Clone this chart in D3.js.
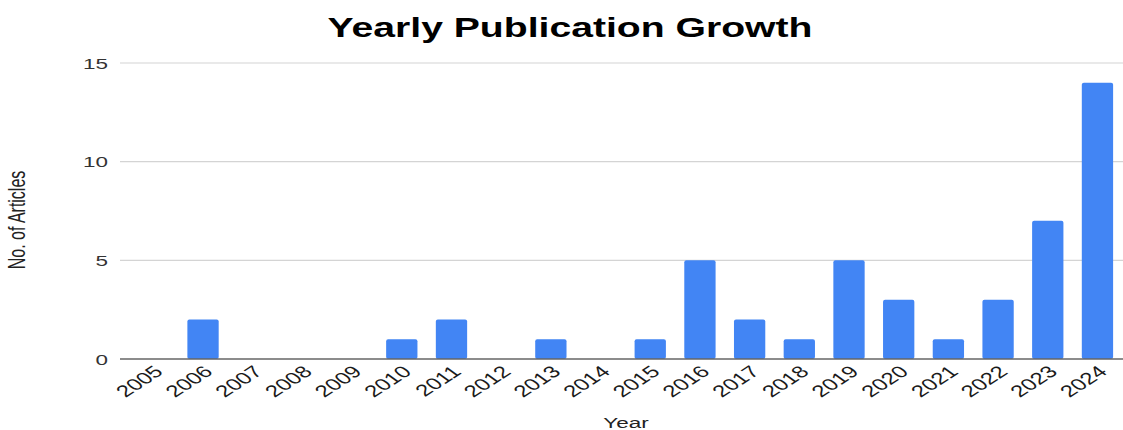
<!DOCTYPE html>
<html>
<head>
<meta charset="utf-8">
<script src="https://cdn.jsdelivr.net/npm/d3@7"></script>
<style>
  html, body { margin: 0; padding: 0; background: #fff; }
  svg { display: block; font-family: "Liberation Sans", Arial, sans-serif; }
</style>
</head>
<body>
<div id="chart"></div>
<script>
const years = ["2005", "2006", "2007", "2008", "2009", "2010", "2011", "2012", "2013", "2014",
  "2015", "2016", "2017", "2018", "2019", "2020", "2021", "2022", "2023", "2024"];
const articles = [0, 2, 0, 0, 0, 1, 2, 0, 1, 0, 1, 5, 2, 1, 5, 3, 1, 3, 7, 14];
const yTicks = [0, 5, 10, 15];

const W = 1123, H = 430;
const sx = 1.45; // text looks stretched sideways in the reference

const svg = d3.select("#chart").append("svg")
    .attr("width", W)
    .attr("height", H);

const x = d3.scaleBand()
    .domain(years)
    .range([128.5, 1122.3])
    .paddingInner(0.37)
    .paddingOuter(0.185);

const y = d3.scaleLinear()
    .domain([0, 15])
    .range([359, 63]);

// gridlines
svg.append("g")
  .selectAll("line")
    .data(yTicks.filter(d => d > 0))
  .enter().append("line")
    .attr("x1", 120)
    .attr("x2", W)
    .attr("y1", d => y(d))
    .attr("y2", d => y(d))
    .attr("stroke", "#d4d4d4")
    .attr("stroke-width", 1.2);

// y tick labels
svg.append("g")
  .selectAll("text")
    .data(yTicks)
  .enter().append("text")
    .attr("transform", d => `translate(108,${y(d) + 5.5}) scale(${sx},1)`)
    .attr("text-anchor", "end")
    .attr("font-size", 15.5)
    .attr("fill", "#333")
    .text(d => d);

// bars
svg.append("g")
  .selectAll("rect")
    .data(articles.map((v, i) => ({ year: years[i], value: v })).filter(d => d.value > 0))
  .enter().append("rect")
    .attr("x", d => x(d.year))
    .attr("y", d => y(d.value))
    .attr("width", x.bandwidth())
    .attr("height", d => y(0) - y(d.value))
    .attr("rx", 2)
    .attr("fill", "#4285f4");

// baseline
svg.append("line")
    .attr("x1", 120)
    .attr("x2", W)
    .attr("y1", y(0))
    .attr("y2", y(0))
    .attr("stroke", "#666")
    .attr("stroke-width", 1.5);

// x tick labels
svg.append("g")
  .selectAll("text")
    .data(years)
  .enter().append("text")
    .attr("transform", d => `translate(${x(d) + x.bandwidth() / 2 + 11},${373}) scale(${sx},1) rotate(-43)`)
    .attr("text-anchor", "end")
    .attr("font-size", 16.5)
    .attr("fill", "#1a1a1a")
    .text(d => d);

// title
svg.append("text")
    .attr("transform", `translate(570,37) scale(${sx},1)`)
    .attr("text-anchor", "middle")
    .attr("font-size", 27)
    .attr("font-weight", "bold")
    .attr("fill", "#000")
    .text("Yearly Publication Growth");

// axis titles
svg.append("text")
    .attr("transform", `translate(626,428) scale(${sx},1)`)
    .attr("text-anchor", "middle")
    .attr("font-size", 15.5)
    .attr("fill", "#222")
    .text("Year");

svg.append("text")
    .attr("transform", `translate(25,220) scale(${sx},1) rotate(-90)`)
    .attr("text-anchor", "middle")
    .attr("font-size", 16)
    .attr("fill", "#222")
    .text("No. of Articles");
</script>
</body>
</html>
